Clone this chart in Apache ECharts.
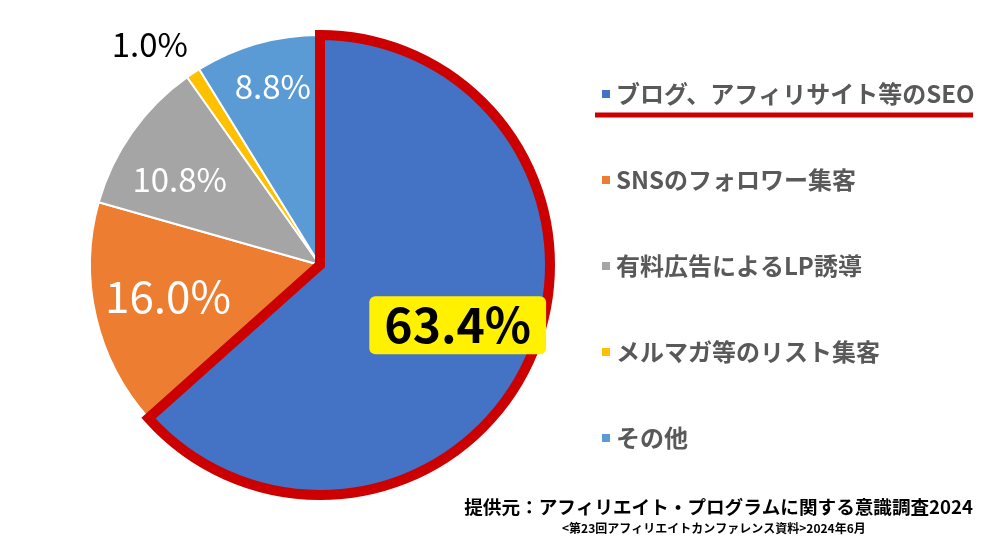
<!DOCTYPE html>
<html>
<head>
<meta charset="utf-8">
<script src="https://cdn.jsdelivr.net/npm/echarts@6/dist/echarts.min.js"></script>
<style>
  html, body { margin: 0; padding: 0; background: #fff; }
  #chart { width: 1000px; height: 554px; }
</style>
</head>
<body>
<div id="chart"></div>
<script>
var categories = ['ブログ、アフィリサイト等のSEO', 'SNSのフォロワー集客', '有料広告によるLP誘導', 'メルマガ等のリスト集客', 'その他'];
var values = [63.4, 16.0, 10.8, 1.0, 8.8];
var colors = ['#4472C4', '#ED7D31', '#A5A5A5', '#FFC000', '#5B9BD5'];

var font = '"Noto Sans CJK JP", "Noto Sans", sans-serif';
var myChart = echarts.init(document.getElementById('chart'));

// 各ラベルの位置調整
var labelStyles = [
    { fontSize: 48, lineHeight: 50, fontWeight: 'bold', color: '#000', backgroundColor: '#FFF100',
      borderRadius: 6, padding: [4, 15, 4, 15], offset: [30, 12] },
    { fontSize: 44, color: '#fff', offset: [-37, 5] },
    { fontSize: 33, color: '#fff', offset: [-44, -17] },
    { fontSize: 33, color: '#000', offset: [-105, -122] },
    { fontSize: 33, color: '#fff', offset: [-15, -65] }
];

var mainData = categories.map(function (name, i) {
    return {
        name: name,
        value: values[i],
        itemStyle: { color: colors[i] },
        label: labelStyles[i]
    };
});

// 赤枠だけ描く重ね用
var outlineData = categories.map(function (name, i) {
    return {
        name: name,
        value: values[i],
        itemStyle: i === 0
            ? { color: 'rgba(0,0,0,0)', borderColor: '#CC0000', borderWidth: 10, borderJoin: 'miter' }
            : { color: 'rgba(0,0,0,0)', borderWidth: 0 }
    };
});

var option = {
    animation: false,
    color: colors,
    legend: {
        orient: 'vertical',
        left: 595,
        top: 77,
        icon: 'rect',
        itemWidth: 10,
        itemHeight: 10,
        itemGap: 62,
        data: categories,
        textStyle: {
            fontFamily: font,
            fontSize: 24,
            fontWeight: 'bold',
            color: '#595959'
        }
    },
    graphic: [
        {
            type: 'line',
            shape: { x1: 595, y1: 115, x2: 973, y2: 115 },
            style: { stroke: '#CC0000', lineWidth: 5 }
        },
        {
            type: 'text',
            right: 27,
            top: 498,
            style: {
                text: '提供元：アフィリエイト・プログラムに関する意識調査2024',
                font: 'bold 18.6px ' + font,
                fill: '#000'
            }
        },
        {
            type: 'text',
            left: 562,
            top: 522,
            style: {
                text: '<第23回アフィリエイトカンファレンス資料>2024年6月',
                font: 'bold 12px ' + font,
                fill: '#000'
            }
        }
    ],
    series: [
        {
            name: 'main',
            type: 'pie',
            center: [320, 265],
            radius: 230,
            startAngle: 90,
            clockwise: true,
            avoidLabelOverlap: false,
            label: {
                show: true,
                position: 'inside',
                fontFamily: font,
                formatter: function (p) { return p.value.toFixed(1) + '%'; }
            },
            labelLine: { show: false },
            itemStyle: { borderColor: '#fff', borderWidth: 2 },
            emphasis: { disabled: true },
            data: mainData
        },
        {
            name: 'outline',
            type: 'pie',
            center: [320, 265],
            radius: 230,
            startAngle: 90,
            clockwise: true,
            silent: true,
            label: { show: false },
            labelLine: { show: false },
            emphasis: { disabled: true },
            data: outlineData
        }
    ]
};
myChart.setOption(option);
</script>
</body>
</html>
